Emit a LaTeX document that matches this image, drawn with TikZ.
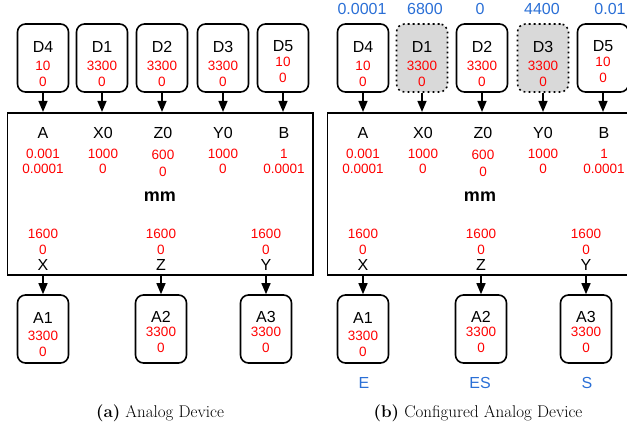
\documentclass[tikz,border=0pt]{standalone}
\usepackage{xcolor}
\usepackage{fontspec}
\usetikzlibrary{arrows.meta}
\newfontfamily\diagfont{Liberation Sans}
\definecolor{cfgblue}{HTML}{2A6FD6}

\begin{document}
\begin{tikzpicture}[x=1pt, y=-1pt,
    devbox/.style={draw, rectangle, rounded corners=8pt, line width=1.6pt, minimum width=51pt, minimum height=68pt},
    cfgbox/.style={devbox, fill=gray!30, dash pattern=on 1.8pt off 3.2pt},
    mainbox/.style={draw, rectangle, line width=1.6pt, minimum width=305.4pt, minimum height=162.3pt},
    lbl/.style={font=\diagfont\fontsize{16}{19}\selectfont, inner sep=0pt},
    val/.style={font=\diagfont\fontsize{13.5}{15}\selectfont, text=red, inner sep=0pt},
    cfgval/.style={font=\diagfont\fontsize{16}{19}\selectfont, text=cfgblue, inner sep=0pt},
    unit/.style={font=\diagfont\bfseries\fontsize{18}{21}\selectfont, inner sep=0pt},
    feed/.style={-{Triangle[length=11pt, width=9pt]}, line width=1.4pt},
    caption/.style={font=\fontsize{17}{20}\selectfont, inner sep=0pt}]
    \useasboundingbox (0,0) rectangle (627,429);
    \clip (0,0) rectangle (627,429);

    \foreach \pan/\off/\dstyle in {a/0/devbox, b/320/cfgbox} {
    \begin{scope}[xshift=\off]
        % Device boxes on top
        \foreach \n/\x/\hi/\dy/\st in {D4/43/10/0/devbox, D1/102/3300/0/\dstyle, D2/162/3300/0/devbox, D3/223/3300/0/\dstyle, D5/283/10/3.5/devbox} {
            \node[\st] (\pan-\n) at (\x,58) {};
            \node[lbl] (\pan-\n-t) at (\x,46.5) {\n};
            \node[val] (\pan-\n-hi) at (\x,{65.5-\dy}) {\hi};
            \node[val] (\pan-\n-lo) at (\x,{81.5-\dy}) {0};
        }

        % Analog block
        \node[mainbox] (\pan-M) at (160,193.85) {};
        \foreach \n/\x/\hi/\lo/\dy in {A/43/0.001/0.0001/0, X0/103/1000/0/0, Z0/163/600/0/1, Y0/223/1000/0/0, B/284/1/0.0001/0} {
            \node[lbl] (\pan-\n) at (\x,133) {\n};
            \node[val] (\pan-\n-hi) at (\x,{154+\dy}) {\hi};
            \node[val] (\pan-\n-lo) at (\x,{169+3*\dy}) {\lo};
        }
        \node[unit] (\pan-mm) at (160,197) {mm};

        % Arrows in
        \foreach \n in {D4, D1, D2, D3, D5}
            \draw[feed] (\pan-\n) -- (\pan-\n |- \pan-M.north);

        % Outputs
        \foreach \n/\x/\a/\dy in {X/43/A1/0, Z/161/A2/1, Y/266/A3/1} {
            \node[val] (\pan-\n-hi) at (\x,234) {1600};
            \node[val] (\pan-\n-lo) at (\x,249.5) {0};
            \node[lbl] (\pan-\n) at (\x,265) {\n};
            \node[devbox] (\pan-\a) at (\x,329) {};
            \node[lbl] (\pan-\a-t) at (\x,{318-\dy}) {\a};
            \node[val] (\pan-\a-hi) at (\x,{336-4*\dy}) {3300};
            \node[val] (\pan-\a-lo) at (\x,{352-4*\dy}) {0};
            \draw[feed] (\pan-\a.north |- \pan-M.south) -- (\pan-\a);
        }
    \end{scope}
    }

    % Configured values
    \node[cfgval] (b-D4-c) at (362,8.5) {0.0001};
    \node[cfgval] (b-D1-c) at (425,8.5) {6800};
    \node[cfgval] (b-D2-c) at (480,8.5) {0};
    \node[cfgval] (b-D3-c) at (542,8.5) {4400};
    \node[cfgval] (b-D5-c) at (610,8.5) {0.01};
    \node[cfgval] (b-A1-c) at (364,383) {E};
    \node[cfgval] (b-A2-c) at (480,383) {ES};
    \node[cfgval] (b-A3-c) at (587,383) {S};

    % Captions
    \node[caption] (cap-a) at (160,413) {\textbf{(a)} Analog Device};
    \node[caption] (cap-b) at (478,413) {\textbf{(b)} Configured Analog Device};
\end{tikzpicture}
\end{document}
